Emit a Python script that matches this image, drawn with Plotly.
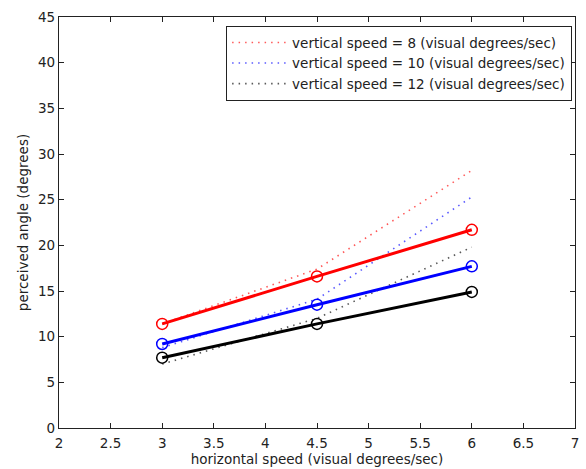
import plotly.graph_objects as go

x_vals = [3, 4.5, 6]
colors = ["#ff0000", "#0000ff", "#000000"]
names = ["vertical speed = 8 (visual degrees/sec)",
         "vertical speed = 10 (visual degrees/sec)",
         "vertical speed = 12 (visual degrees/sec)"]

# measured (solid, circles)
measured_8 = [11.4, 16.6, 21.7]
measured_10 = [9.2, 13.5, 17.7]
measured_12 = [7.7, 11.4, 14.9]

# model (dotted)
model_8 = [11.4, 17.4, 28.2]
model_10 = [8.8, 14.1, 25.3]
model_12 = [7.0, 12.0, 19.8]

measured = [measured_8, measured_10, measured_12]
model = [model_8, model_10, model_12]

x_ticks = [2, 2.5, 3, 3.5, 4, 4.5, 5, 5.5, 6, 6.5, 7]
x_tick_text = ["2", "2.5", "3", "3.5", "4", "4.5", "5", "5.5", "6", "6.5", "7"]
y_ticks = [0, 5, 10, 15, 20, 25, 30, 35, 40, 45]

FONT = "DejaVu Sans, Liberation Sans, Arial"

fig = go.Figure()
for name, c, m in zip(names, colors, model):
    fig.add_trace(go.Scatter(x=x_vals, y=m, mode="lines", name=name,
                             line=dict(color=c, width=1.6, dash="1.5px,5px"),
                             opacity=0.65))
for c, m in zip(colors, measured):
    fig.add_trace(go.Scatter(x=x_vals, y=m, mode="lines+markers", showlegend=False,
                             line=dict(color=c, width=3),
                             marker=dict(symbol="circle-open", size=11, color=c,
                                         line=dict(width=1.5, color=c))))

axis_common = dict(showgrid=False, zeroline=False, showline=True, linecolor="#222222",
                   linewidth=1.2, mirror="ticks", ticks="inside", ticklen=5,
                   tickcolor="#222222", automargin=False,
                   tickfont=dict(family=FONT, size=13.5, color="#222222"))

fig.update_layout(
    width=586, height=469,
    margin=dict(l=59, r=11, t=17, b=41),
    paper_bgcolor="white", plot_bgcolor="white",
    font=dict(family=FONT, size=14, color="#222222"),
    xaxis=dict(range=[2, 7], tickvals=x_ticks, ticktext=x_tick_text, ticklabelstandoff=3,
               title=dict(text="horizontal speed (visual degrees/sec)", standoff=2,
                          font=dict(family=FONT, size=13.5)), **axis_common),
    yaxis=dict(range=[0, 45], tickvals=y_ticks,
               title=dict(text="perceived angle (degrees)", standoff=6,
                          font=dict(family=FONT, size=13.5)), **axis_common),
    legend=dict(x=0.994, y=0.978, xanchor="right", yanchor="top",
                bgcolor="white", bordercolor="#222222", borderwidth=1.2,
                font=dict(family=FONT, size=13.5), itemwidth=55, tracegroupgap=0),
)

fig.write_html("out.html", config={"displayModeBar": False},
               post_script="document.body.style.margin='0px';document.body.style.padding='0px';")
